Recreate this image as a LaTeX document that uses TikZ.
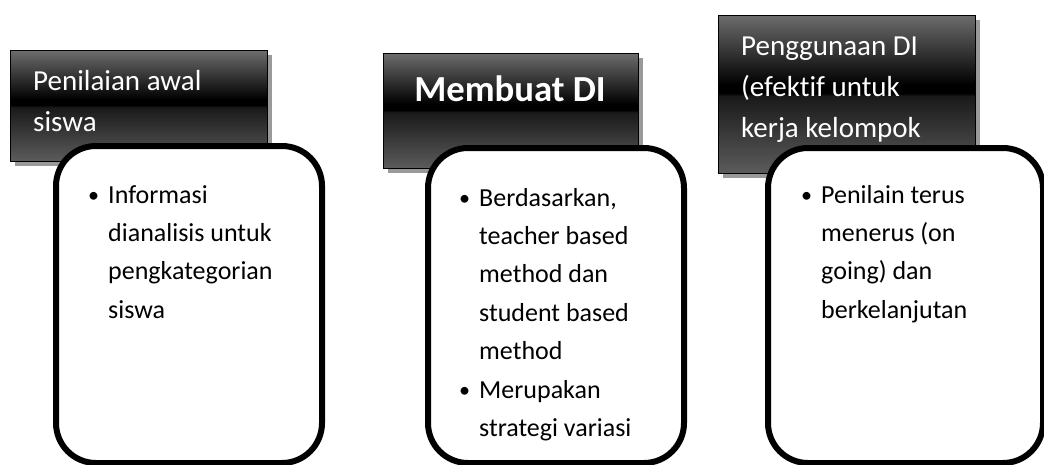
\documentclass[tikz,border=0pt]{standalone}
\usepackage{fontspec}
\setmainfont[Ligatures=NoCommon]{Carlito}
\usetikzlibrary{shadows}

\definecolor{htop}{HTML}{6C6C6C}
\definecolor{hbot}{HTML}{5C5C5C}
\pgfdeclareverticalshading{hdrshade}{100bp}{color(0bp)=(hbot); color(25bp)=(hbot); color(49.5bp)=(black!90!white); color(50.5bp)=(black); color(53bp)=(black); color(75bp)=(htop); color(100bp)=(htop)}

\tikzset{
  hdr/.style={draw=black, line width=1.3pt, shading=hdrshade, anchor=north west, inner sep=0,
    drop shadow={shadow xshift=4pt, shadow yshift=-4pt, fill=black!40, opacity=1}},
  card/.style={draw=black, line width=6pt, fill=white, rounded corners=40pt, anchor=north west, inner sep=0},
  hdrtext/.style={text=white, font=\fontsize{29}{41}\selectfont, align=left, anchor=base west, inner sep=0},
  cardtext/.style={font=\fontsize{26}{38.4}\selectfont, align=left, anchor=base west, inner sep=0}
}
\newcommand{\bul}{\llap{\raisebox{1pt}{\scalebox{0.85}{\textbullet}}\hspace{9pt}}}

\begin{document}
\begin{tikzpicture}[x=1pt, y=-1pt]
\useasboundingbox (0,0) rectangle (1044,464);

% last baselines of the text blocks
\def\ya{318.2};
\def\yb{436.4};

% headers
\node[hdr, minimum width=257pt, minimum height=111pt] (h1) at (10,50) {};
\node[hdr, minimum width=255pt, minimum height=115pt] (h2) at (383,53) {};
\node[hdr, minimum width=257pt, minimum height=158pt] (h3) at (718,15) {};

\node[hdrtext] (t1) at (33,131) {Penilaian awal\\siswa};
\node[hdrtext, anchor=base, font=\fontsize{36.7}{41}\selectfont\bfseries] (t2) at (510,101) {Membuat DI};
\node[hdrtext] (t3) at (741,137) {Penggunaan DI\\(efektif untuk\\kerja kelompok};

% cards
\node[card, minimum width=266pt, minimum height=317pt] (c1) at (53,143) {};
\node[card, minimum width=256pt, minimum height=315pt] (c2) at (425,145) {};
\node[card, minimum width=275pt, minimum height=315pt] (c3) at (765,145) {};

\node[cardtext] (k1) at (108,\ya) {\bul Informasi\\dianalisis untuk\\pengkategorian\\siswa};
\node[cardtext] (k2) at (479,\yb) {\bul Berdasarkan,\\teacher based\\method dan\\student based\\method\\\bul Merupakan\\strategi variasi};
\node[cardtext] (k3) at (821,\ya) {\bul Penilain terus\\menerus (on\\going) dan\\berkelanjutan};

\end{tikzpicture}
\end{document}
